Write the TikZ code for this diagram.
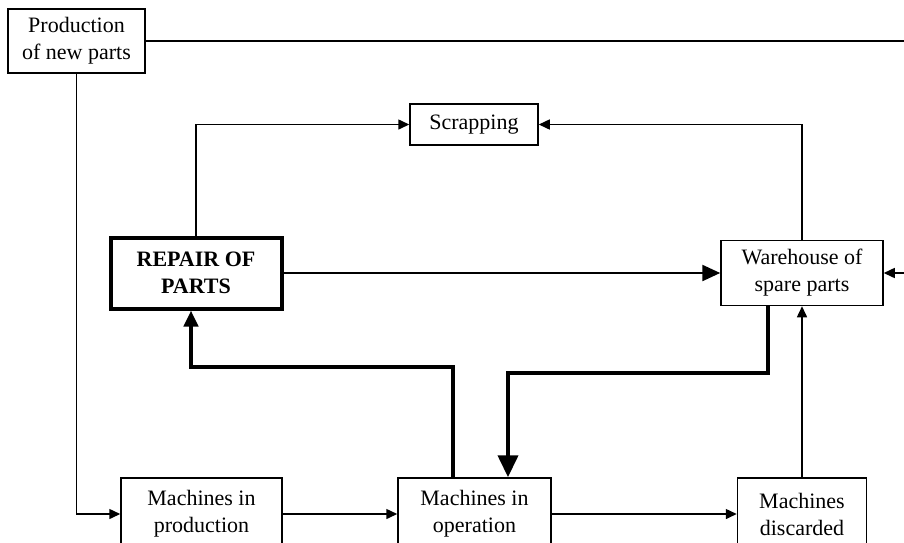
\documentclass[tikz,border=0pt]{standalone}
\usepackage{fontspec}
\setmainfont{Liberation Serif}
\usetikzlibrary{arrows.meta,positioning}

\tikzset{
  blk/.style={draw, line width=0.75pt, align=center, inner sep=1pt},
  thinarr/.style={line width=0.75pt, -{Triangle[length=5.5pt,width=5pt]}},
  heavyarr/.style={line width=2pt, -{Triangle[length=8pt,width=7pt]}}
}

\begin{document}
\begin{tikzpicture}[x=0.5pt, y=-0.5pt, font=\fontsize{11}{13.5}\selectfont]
    \useasboundingbox (0,0) rectangle (904,542);
    \clip (0,0) rectangle (904,542);

    \node[blk, minimum width=68.5pt, minimum height=32pt] (prod) at (76.5,41) {Production\\of new parts};
    \node[blk, minimum width=64pt, minimum height=20.5pt] (scrap) at (474,124.5) {Scrapping};
    \node[blk, line width=2pt, minimum width=85.5pt, minimum height=35.5pt, font=\fontsize{11}{13.5}\selectfont\bfseries] (repair) at (196,273) {REPAIR OF\\PARTS};
    \node[blk, minimum width=81pt, minimum height=32.5pt] (ware) at (802,273) {Warehouse of\\spare parts};
    \node[blk, minimum width=80.5pt, minimum height=36pt] (mprod) at (201.5,514) {Machines in\\production};
    \node[blk, minimum width=76.5pt, minimum height=36pt] (mop) at (474.5,514) {Machines in\\operation};
    \node[blk, minimum width=64.5pt, minimum height=36pt] (mdisc) at (802,514) {Machines\\discarded};

    \coordinate (edgeT) at (904,41);
    \coordinate (edgeW) at (904,273);

    % supply of new parts
    \draw[line width=0.75pt] (prod.east) -- (edgeT);
    \draw[thinarr] (prod.south) |- (mprod.west);
    \draw[thinarr] (mprod.east) -- (mop.west);
    \draw[thinarr] (mop.east) -- (mdisc.west);
    \draw[thinarr] (mdisc.north) -- (ware.south);
    \draw[thinarr] (edgeW) -- (ware.east);

    % scrapping
    \draw[thinarr] (repair.north) |- (scrap.west);
    \draw[thinarr] (ware.north) |- (scrap.east);

    % repaired parts to stock
    \draw[line width=1.2pt, -{Triangle[length=9pt,width=8pt]}] (repair.east) -- (ware.west);

    % heavy flows
    \draw[heavyarr] ([xshift=-10.75pt]mop.north) -- ++(0,-110) -| ([xshift=-2.5pt]repair.south);
    \draw[line width=2pt, -{Triangle[length=11pt,width=10pt]}] ([xshift=-17pt]ware.south) -- ++(0,67) -| ([xshift=16.75pt]mop.north);
\end{tikzpicture}
\end{document}
